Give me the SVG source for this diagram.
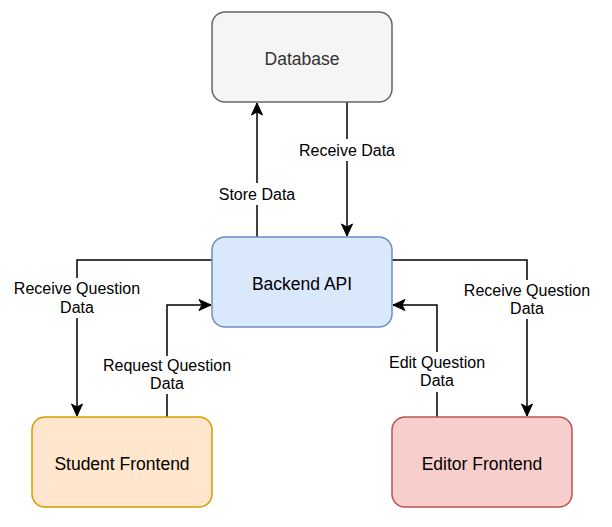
<svg xmlns="http://www.w3.org/2000/svg" width="612" height="527" viewBox="0 0 612 527">
<style>
.node{stroke-width:1.5}
.nt{font-family:"Liberation Sans",Arial,sans-serif;font-size:17.5px;text-anchor:middle}
.el{font-family:"Liberation Sans",Arial,sans-serif;font-size:16px;text-anchor:middle;fill:#000}
.edge{fill:none;stroke:#000;stroke-width:1.5;marker-end:url(#arr)}
.lbg{fill:#fff}
</style>
<defs>
<marker id="arr" markerUnits="userSpaceOnUse" markerWidth="14" markerHeight="14" viewBox="0 0 14 14" refX="13" refY="7" orient="auto">
<path d="M1,1.5 L13,7 L1,12.5 L4,7 Z" fill="#000" stroke="#000" stroke-width="1"/>
</marker>
</defs>
<rect width="612" height="527" fill="#fff"/>
<g id="connectors">
<path class="edge" d="M257,237 V103"/>
<path class="edge" d="M347,102 V236"/>
<path class="edge" d="M212,260 H77 V416"/>
<path class="edge" d="M167,417 V305 H211"/>
<path class="edge" d="M392,260 H527 V416"/>
<path class="edge" d="M437,417 V305 H393"/>
</g>
<g id="edge-labels">
<rect class="lbg" x="218" y="183" width="78" height="22"/>
<text class="el" x="257" y="200">Store Data</text>
<rect class="lbg" x="302" y="139" width="90" height="22"/>
<text class="el" x="347" y="156">Receive Data</text>
<rect class="lbg" x="12" y="278" width="131" height="40"/>
<text class="el" x="77" y="294">Receive Question</text>
<text class="el" x="77" y="313">Data</text>
<rect class="lbg" x="99" y="356" width="136" height="38"/>
<text class="el" x="167" y="371">Request Question</text>
<text class="el" x="167" y="389">Data</text>
<rect class="lbg" x="462" y="280" width="131" height="39"/>
<text class="el" x="527" y="296">Receive Question</text>
<text class="el" x="527" y="314">Data</text>
<rect class="lbg" x="385" y="352" width="104" height="40"/>
<text class="el" x="437" y="368">Edit Question</text>
<text class="el" x="437" y="386">Data</text>
</g>
<g id="database">
<rect class="node" x="212" y="12" width="180" height="90" rx="13" fill="#f5f5f5" stroke="#666666"/>
<text class="nt" x="302" y="65" fill="#333333">Database</text>
</g>
<g id="backend-api">
<rect class="node" x="212" y="237" width="180" height="90" rx="13" fill="#dae8fc" stroke="#6c8ebf"/>
<text class="nt" x="302" y="290" fill="#000">Backend API</text>
</g>
<g id="student-frontend">
<rect class="node" x="32" y="417" width="180" height="90" rx="13" fill="#ffe6cc" stroke="#d79b00"/>
<text class="nt" x="122" y="470" fill="#000">Student Frontend</text>
</g>
<g id="editor-frontend">
<rect class="node" x="392" y="417" width="180" height="90" rx="13" fill="#f8cecc" stroke="#b85450"/>
<text class="nt" x="482" y="470" fill="#000">Editor Frontend</text>
</g>
</svg>
